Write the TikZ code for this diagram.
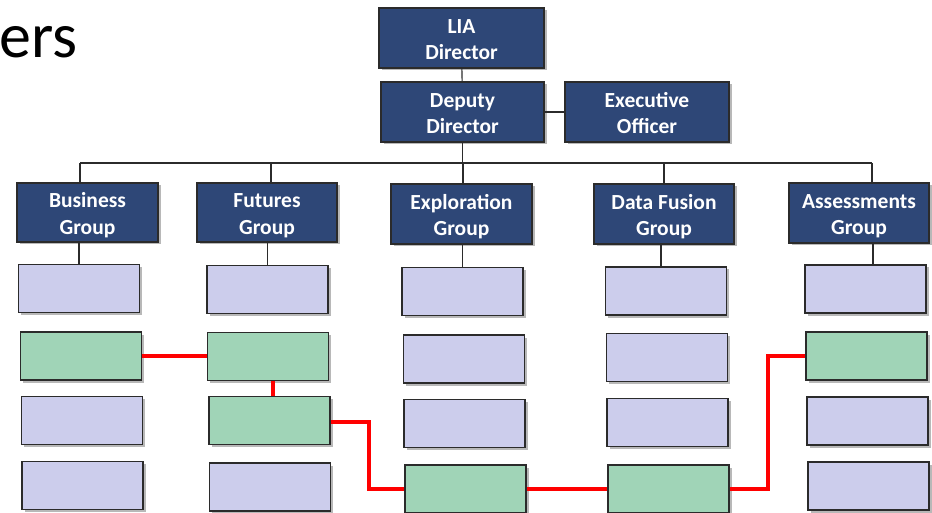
\documentclass[tikz,border=0pt]{standalone}
\usepackage{fontspec}
\setmainfont{Carlito}
\usetikzlibrary{shadows}

\definecolor{navy}{HTML}{2E4777}
\definecolor{lav}{HTML}{CCCDEC}
\definecolor{mint}{HTML}{A0D4B7}
\definecolor{edge}{HTML}{2B2B2B}

% two-line caption, set a little below the box centre
\newcommand{\twoline}[2]{\raisebox{-3pt}[\height][\depth]{\begin{tabular}{@{}c@{}}#1\\#2\end{tabular}}}

\tikzset{
  boxshadow/.style={drop shadow={shadow xshift=2.5pt,shadow yshift=-2.5pt,fill=black!28,opacity=1}},
  headbox/.style={draw=edge, line width=1.2pt, fill=navy, boxshadow, text=white,
    font=\fontsize{21.5}{26.5}\selectfont\bfseries, inner sep=0pt},
  unitbox/.style={draw=edge, line width=1.2pt, fill=lav, boxshadow,
    minimum width=121pt, minimum height=48pt, inner sep=0pt},
  pathbox/.style={unitbox, fill=mint},
  tie/.style={draw=edge, line width=1.1pt},
  route/.style={draw=red, line width=4pt},
}

\begin{document}
\begin{tikzpicture}[x=1pt,y=-1pt]
\useasboundingbox (0,0) rectangle (932,513);

% title fragment at the upper left
\node[anchor=base east, inner sep=0pt, font=\fontsize{64}{64}\selectfont] (title) at (78,58) {ers};

% leadership
\node[headbox, minimum width=165pt, minimum height=60pt] (lia) at (461.5,38) {\twoline{LIA}{Director}};
\node[headbox, minimum width=163pt, minimum height=60pt] (dep) at (462.5,112) {\twoline{Deputy}{Director}};
\node[headbox, minimum width=164pt, minimum height=60pt] (exo) at (647,112) {\twoline{Executive}{Officer}};

% groups
\node[headbox, minimum width=141pt, minimum height=59pt] (biz) at (87.5,212.5) {\twoline{Business}{Group}};
\node[headbox, minimum width=140pt, minimum height=59pt] (fut) at (267,212.5) {\twoline{Futures}{Group}};
\node[headbox, minimum width=141pt, minimum height=60pt] (exp) at (461.5,214) {\twoline{Exploration}{Group}};
\node[headbox, minimum width=140pt, minimum height=60pt] (dfu) at (664,214) {\twoline{Data Fusion}{Group}};
\node[headbox, minimum width=140pt, minimum height=60pt] (ass) at (859,213) {\twoline{Assessments}{Group}};

% units: Business
\node[unitbox] (b1) at (79,288.5) {};
\node[pathbox] (b2) at (81,356) {};
\node[unitbox] (b3) at (82,420.5) {};
\node[unitbox] (b4) at (82.5,485.5) {};
% units: Futures
\node[unitbox] (f1) at (267.5,289.5) {};
\node[pathbox] (f2) at (268,356.5) {};
\node[pathbox] (f3) at (269.5,420.5) {};
\node[unitbox] (f4) at (270,487) {};
% units: Exploration
\node[unitbox] (e1) at (462.5,291.5) {};
\node[unitbox] (e2) at (464,359) {};
\node[unitbox] (e3) at (464.5,423.5) {};
\node[pathbox] (e4) at (465.5,489) {};
% units: Data Fusion
\node[unitbox] (d1) at (666,291) {};
\node[unitbox] (d2) at (667,357.5) {};
\node[unitbox] (d3) at (667.5,422.5) {};
\node[pathbox] (d4) at (668.5,489) {};
% units: Assessments
\node[unitbox] (a1) at (865.5,289) {};
\node[pathbox] (a2) at (866.5,356) {};
\node[unitbox] (a3) at (867.5,421) {};
\node[unitbox] (a4) at (868.5,486) {};

% reporting lines
\coordinate (busL) at (80,163);
\coordinate (busR) at (872,163);
\draw[tie] (lia) -- (dep);
\draw[tie] (dep) -- (exo);
\draw[tie] (dep.south) -- (dep.south |- busL);
\draw[tie] (busL) -- (busR);
\draw[tie] (busL) -- (busL |- biz.north);
\draw[tie] (busR) -- (busR |- ass.north);
\draw[tie] (271,163) -- (271,0 |- fut.north);
\draw[tie] (463,163) -- (463,0 |- exp.north);
\draw[tie] (664,163) -- (664,0 |- dfu.north);
\draw[tie] (biz.south -| b1.north) -- (b1.north);
\draw[tie] (fut.south -| f1.north) -- (f1.north);
\draw[tie] (exp.south -| e1.north) -- (e1.north);
\draw[tie] ([xshift=-3pt]dfu.south) -- ([xshift=-3pt]dfu.south |- d1.north);
\draw[tie] ([xshift=14pt]ass.south) -- ([xshift=14pt]ass.south |- a1.north);

% highlighted route across the groups
\draw[route] (b2.east) -- (b2.east -| f2.west);
\draw[route] ([xshift=5pt]f2.south) -- ([xshift=5pt]f2.south |- f3.north);
\draw[route] ([yshift=-1.5pt]f3.east) -| (369,489) -- (e4.west);
\draw[route] (e4.east) -- (d4.west);
\draw[route] (d4.east) -| (768,356) -- (a2.west);
\end{tikzpicture}
\end{document}
